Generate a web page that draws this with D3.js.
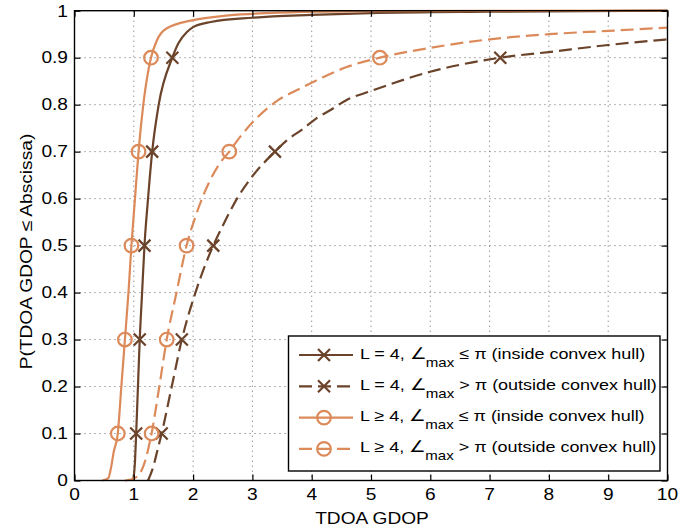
<!DOCTYPE html>
<html>
<head>
<meta charset="utf-8">
<script src="https://cdn.jsdelivr.net/npm/d3@7"></script>
<style>
  body { margin: 0; background: #fff; }
  svg { display: block; }
  text { font-family: "Liberation Sans", Arial, Helvetica, sans-serif; fill: #000; }
</style>
</head>
<body>
<div id="chart"></div>
<script>
// CDF curves: GDOP value (x) and probability (p)
const darkSolidX = [0.99, 1.02, 1.04, 1.07, 1.10, 1.14, 1.18, 1.24, 1.31, 1.42, 1.65, 1.75, 1.90, 2.00, 2.30, 3.00, 4.00, 5.00, 7.00, 10.0];
const darkSolidP = [0, 0.04, 0.10, 0.20, 0.30, 0.40, 0.50, 0.60, 0.70, 0.80, 0.90, 0.93, 0.955, 0.965, 0.976, 0.985, 0.991, 0.995, 0.998, 1.0];

const darkDashX = [1.24, 1.33, 1.40, 1.47, 1.64, 1.81, 2.04, 2.34, 2.48, 2.76, 2.99, 3.38, 3.58, 3.86, 4.08, 4.31, 4.59, 5.00, 6.00, 7.18, 8.00, 9.00, 10.0];
const darkDashP = [0, 0.03, 0.065, 0.10, 0.20, 0.30, 0.40, 0.50, 0.537, 0.604, 0.646, 0.70, 0.724, 0.749, 0.771, 0.788, 0.81, 0.829, 0.870, 0.90, 0.912, 0.927, 0.939];

const lightSolidX = [0.47, 0.57, 0.62, 0.66, 0.73, 0.79, 0.85, 0.91, 0.96, 1.02, 1.08, 1.16, 1.29, 1.39, 1.55, 2.00, 2.60, 3.50, 5.00, 10.0];
const lightSolidP = [0, 0.005, 0.03, 0.06, 0.10, 0.20, 0.30, 0.40, 0.50, 0.60, 0.70, 0.80, 0.90, 0.937, 0.962, 0.980, 0.990, 0.996, 0.999, 1.0];

const lightDashX = [0.85, 0.95, 1.05, 1.16, 1.23, 1.30, 1.43, 1.555, 1.72, 1.89, 2.06, 2.26, 2.45, 2.61, 2.79, 3.07, 3.44, 3.80, 4.20, 4.59, 5.15, 6.00, 7.00, 8.00, 9.00, 10.0];
const lightDashP = [0, 0.002, 0.008, 0.03, 0.06, 0.10, 0.20, 0.30, 0.40, 0.50, 0.569, 0.632, 0.675, 0.70, 0.731, 0.771, 0.81, 0.834, 0.859, 0.880, 0.90, 0.921, 0.939, 0.950, 0.957, 0.964];

const markerLevels = [0.1, 0.3, 0.5, 0.7, 0.9];

const legendHead = ['L = 4, \u2220', 'L = 4, \u2220', 'L \u2265 4, \u2220', 'L \u2265 4, \u2220'];
const legendTail = [' \u2264 \u03c0 (inside convex hull)', ' > \u03c0 (outside convex hull)',
                    ' \u2264 \u03c0 (inside convex hull)', ' > \u03c0 (outside convex hull)'];

const xTicks = [0, 1, 2, 3, 4, 5, 6, 7, 8, 9, 10];
const yTicks = [0, 0.1, 0.2, 0.3, 0.4, 0.5, 0.6, 0.7, 0.8, 0.9, 1];
const yTickLabels = ['0', '0.1', '0.2', '0.3', '0.4', '0.5', '0.6', '0.7', '0.8', '0.9', '1'];

const dark = '#6b432a';
const light = '#dc8a5a';

const series = [
  {x: darkSolidX, p: darkSolidP, color: dark, dash: null, marker: 'x'},
  {x: darkDashX, p: darkDashP, color: dark, dash: '13,6', marker: 'x'},
  {x: lightSolidX, p: lightSolidP, color: light, dash: null, marker: 'o'},
  {x: lightDashX, p: lightDashP, color: light, dash: '13,6', marker: 'o'}
];

const W = 680, H = 531;
const plot = {left: 74.5, right: 667.5, top: 10.7, bottom: 480.5};
const SX = 1.16; // glyphs in the reference are a bit wider than Liberation Sans

const svg = d3.select('#chart').append('svg')
  .attr('width', W)
  .attr('height', H);

const x = d3.scaleLinear().domain([0, 10]).range([plot.left, plot.right]);
const y = d3.scaleLinear().domain([0, 1]).range([plot.bottom, plot.top]);

function label(g, px, py, str, anchor, size, rot) {
  return g.append('text')
    .attr('transform', 'translate(' + px + ',' + py + ')' + (rot ? ' rotate(' + rot + ')' : '') + ' scale(' + SX + ',1)')
    .attr('text-anchor', anchor)
    .style('font-size', size + 'px')
    .text(str);
}

// grid (dotted)
const grid = svg.append('g');
grid.selectAll('line.gx')
  .data(xTicks.slice(1, -1))
  .enter().append('line')
  .attr('x1', d => x(d)).attr('x2', d => x(d))
  .attr('y1', plot.top).attr('y2', plot.bottom)
  .attr('stroke', '#666').attr('stroke-width', 1).attr('stroke-dasharray', '1,4');
grid.selectAll('line.gy')
  .data(yTicks.slice(1, -1))
  .enter().append('line')
  .attr('x1', plot.left).attr('x2', plot.right)
  .attr('y1', d => y(d)).attr('y2', d => y(d))
  .attr('stroke', '#666').attr('stroke-width', 1).attr('stroke-dasharray', '1,4');

// curves
const line = d3.line()
  .x(d => x(d[0]))
  .y(d => y(d[1]))
  .curve(d3.curveMonotoneX);

function drawMarker(g, cx, cy, kind, color) {
  if (kind === 'x') {
    const s = 6;
    g.append('path')
      .attr('d', 'M' + (cx - s) + ',' + (cy - s) + 'L' + (cx + s) + ',' + (cy + s) +
                 'M' + (cx - s) + ',' + (cy + s) + 'L' + (cx + s) + ',' + (cy - s))
      .attr('stroke', color).attr('stroke-width', 2.2).attr('fill', 'none');
  } else {
    g.append('circle')
      .attr('cx', cx).attr('cy', cy).attr('r', 6.8)
      .attr('stroke', color).attr('stroke-width', 2.2).attr('fill', 'none');
  }
}

const curves = svg.append('g');
series.forEach(s => {
  const pts = s.x.map((v, i) => [v, s.p[i]]);
  curves.append('path')
    .datum(pts)
    .attr('d', line)
    .attr('fill', 'none')
    .attr('stroke', s.color)
    .attr('stroke-width', 2.2)
    .attr('stroke-dasharray', s.dash);
  pts.filter(d => markerLevels.some(m => Math.abs(m - d[1]) < 1e-9))
    .forEach(d => drawMarker(curves, x(d[0]), y(d[1]), s.marker, s.color));
});

// axes box with inward ticks on all sides
const axes = svg.append('g');
axes.append('g')
  .attr('transform', 'translate(0,' + plot.bottom + ')')
  .call(d3.axisBottom(x).tickValues(xTicks).tickSize(-6).tickFormat(''));
axes.append('g')
  .attr('transform', 'translate(0,' + plot.top + ')')
  .call(d3.axisTop(x).tickValues(xTicks).tickSize(-6).tickFormat(''));
axes.append('g')
  .attr('transform', 'translate(' + plot.left + ',0)')
  .call(d3.axisLeft(y).tickValues(yTicks).tickSize(-6).tickFormat(''));
axes.append('g')
  .attr('transform', 'translate(' + plot.right + ',0)')
  .call(d3.axisRight(y).tickValues(yTicks).tickSize(-6).tickFormat(''));
axes.selectAll('.domain').remove();
axes.selectAll('.tick line').attr('stroke', '#000').attr('stroke-width', 1.2);
axes.append('rect')
  .attr('x', plot.left).attr('y', plot.top)
  .attr('width', plot.right - plot.left).attr('height', plot.bottom - plot.top)
  .attr('fill', 'none').attr('stroke', '#000').attr('stroke-width', 1.4);

// tick labels
xTicks.forEach(t => label(svg, x(t), 499.5, String(t), 'middle', 16.5));
yTicks.forEach((t, i) => label(svg, 68, y(t) + 5.8, yTickLabels[i], 'end', 16.5));

// axis titles
label(svg, 372, 523.5, 'TDOA GDOP', 'middle', 16.5);
label(svg, 31.5, 251.5, 'P(TDOA GDOP \u2264 Abscissa)', 'middle', 16.5, -90);

// legend
const lg = svg.append('g');
lg.append('rect')
  .attr('x', 288.5).attr('y', 336)
  .attr('width', 371.5).attr('height', 135)
  .attr('fill', '#fff').attr('stroke', '#000').attr('stroke-width', 1.4);

series.forEach((s, i) => {
  const ly = 355 + i * 31.3;
  lg.append('line')
    .attr('x1', 299).attr('x2', 353)
    .attr('y1', ly).attr('y2', ly)
    .attr('stroke', s.color).attr('stroke-width', 2.2)
    .attr('stroke-dasharray', s.dash);
  drawMarker(lg, 324, ly, s.marker, s.color);
  const t = lg.append('text')
    .attr('transform', 'translate(360,' + (ly + 3.5) + ') scale(' + SX + ',1)')
    .style('font-size', '15.5px');
  t.append('tspan').text(legendHead[i]);
  t.append('tspan').attr('dy', 8).style('font-size', '13px').text('max');
  t.append('tspan').attr('dy', -8).text(legendTail[i]);
});
</script>
</body>
</html>
